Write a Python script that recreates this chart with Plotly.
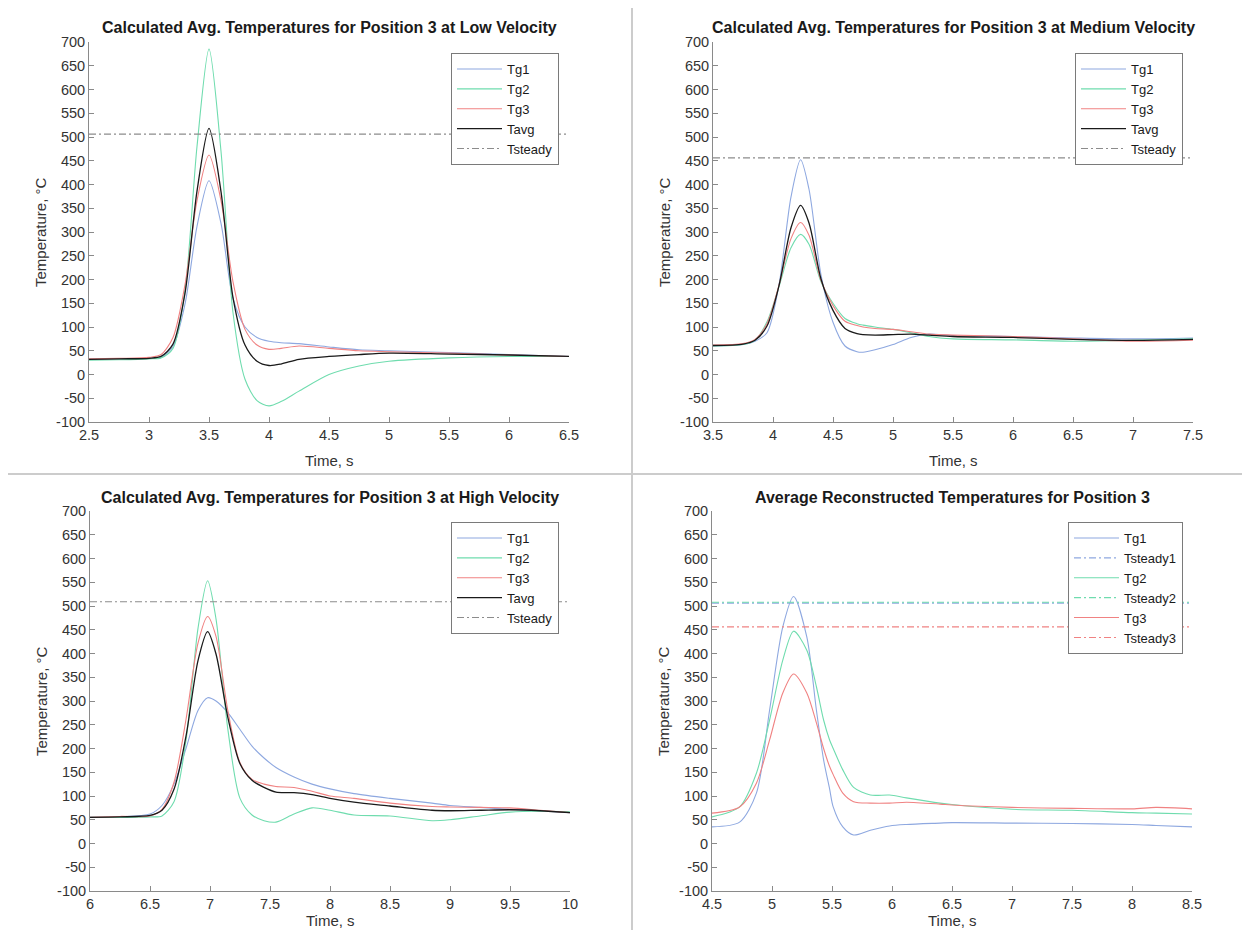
import plotly.graph_objects as go

# ---------------- data ----------------
# Panel 1: low velocity
t_low = [2.5, 2.75, 3.0, 3.1, 3.2, 3.3, 3.4, 3.5, 3.6, 3.7, 3.8, 3.9, 4.0, 4.1, 4.25, 4.5, 4.75, 5.0, 5.5, 6.0, 6.5]
low_tg1 = [32, 33, 34, 36, 59, 148, 312, 408, 318, 160, 100, 78, 70, 67, 65, 58, 52, 50, 46, 42, 38]
low_tg2 = [30, 31, 33, 35, 55, 177, 480, 685, 470, 130, -10, -55, -66, -57, -35, 0, 18, 28, 35, 38, 38]
low_tg3 = [33, 34, 36, 42, 78, 189, 366, 462, 366, 195, 95, 62, 53, 55, 60, 55, 50, 48, 45, 41, 38]
low_tavg = [32, 33, 34, 38, 64, 171, 386, 518, 385, 162, 62, 28, 19, 22, 32, 38, 42, 45, 43, 41, 38]
low_tsteady = 506

# Panel 2: medium velocity
t_med = [3.5, 3.75, 3.85, 3.95, 4.05, 4.15, 4.23, 4.3, 4.4, 4.5, 4.6, 4.7, 4.75, 4.85, 5.0, 5.15, 5.3, 5.5, 6.0, 6.5, 7.0, 7.5]
med_tg1 = [60, 63, 70, 88, 189, 374, 452, 390, 210, 110, 60, 48, 47, 52, 63, 78, 85, 82, 80, 77, 75, 77]
med_tg2 = [60, 63, 72, 111, 185, 267, 295, 274, 195, 150, 118, 107, 104, 100, 95, 88, 80, 75, 73, 70, 72, 75]
med_tg3 = [62, 65, 74, 107, 188, 286, 320, 293, 198, 145, 112, 103, 100, 97, 95, 90, 85, 83, 80, 75, 70, 72]
med_tavg = [61, 64, 72, 102, 187, 309, 356, 319, 201, 135, 97, 86, 84, 83, 84, 85, 83, 80, 78, 74, 72, 74]
med_tsteady = 456

# Panel 3: high velocity
t_high = [6.0, 6.25, 6.5, 6.6, 6.7, 6.8, 6.9, 6.98, 7.05, 7.15, 7.25, 7.35, 7.45, 7.55, 7.7, 7.85, 8.0, 8.2, 8.5, 8.85, 9.0, 9.25, 9.5, 9.75, 10.0]
high_tg1 = [55, 56, 62, 80, 125, 200, 280, 307, 300, 275, 240, 205, 180, 160, 140, 125, 115, 105, 95, 85, 80, 76, 72, 69, 65]
high_tg2 = [55, 55, 56, 58, 88, 217, 453, 553, 473, 238, 95, 60, 48, 45, 62, 75, 70, 60, 58, 48, 50, 58, 66, 68, 67]
high_tg3 = [55, 57, 58, 72, 129, 261, 422, 478, 436, 278, 170, 135, 125, 120, 118, 110, 100, 95, 85, 78, 77, 76, 75, 70, 65]
high_tavg = [55, 56, 59, 70, 114, 226, 385, 446, 399, 264, 168, 133, 118, 108, 107, 103, 95, 87, 79, 70, 69, 70, 71, 69, 65]
high_tsteady = 509

# Panel 4: average reconstructed temperatures
t_rec = [4.5, 4.73, 4.87, 4.98, 5.09, 5.18, 5.29, 5.37, 5.43, 5.48, 5.51, 5.59, 5.68, 5.82, 5.98, 6.12, 6.4, 6.5, 7.0, 7.5, 8.0, 8.2, 8.5]
rec_tg1 = [35, 45, 106, 281, 456, 520, 435, 281, 176, 115, 77, 35, 18, 28, 37, 40, 43, 44, 43, 42, 40, 38, 35]
rec_tg2 = [56, 77, 148, 260, 386, 447, 407, 330, 260, 218, 200, 155, 118, 102, 102, 96, 85, 82, 72, 70, 65, 64, 62]
rec_tg3 = [64, 77, 127, 218, 317, 357, 317, 254, 200, 162, 145, 106, 88, 85, 85, 87, 83, 81, 76, 74, 73, 76, 73]
rec_tsteady1 = 506
rec_tsteady2 = 508
rec_tsteady3 = 456

titles = [
    "Calculated Avg. Temperatures for Position 3 at Low Velocity",
    "Calculated Avg. Temperatures for Position 3 at Medium Velocity",
    "Calculated Avg. Temperatures for Position 3 at High Velocity",
    "Average Reconstructed Temperatures for Position 3",
]
x_ranges = [[2.5, 6.5], [3.5, 7.5], [6.0, 10.0], [4.5, 8.5]]
y_range = [-100, 700]
y_tickvals = list(range(-100, 701, 50))
y_ticktext = [str(v) for v in y_tickvals]
x_label = "Time, s"
y_label = "Temperature, °C"

# ---------------- styling ----------------
# The page body keeps its default 8px margin, so the figure is 16px smaller
# than the 1250x938 window and every reference pixel position is shifted by 8.
OFF = 8
FW, FH = 1250 - 2 * OFF, 938 - 2 * OFF
FONT = "Liberation Sans, Arial, sans-serif"
C1, C2, C3, CK, CS = "#8ea8e0", "#6fdcae", "#f08282", "#1a1a1a", "#8c8c8c"
AXC = "#8a8a8a"
TXT = "#333333"
DASHDOT = "7px,3px,2px,3px"

def px(x):
    return (x - OFF) / FW

def py(y):
    return 1 - (y - OFF) / FH

# axes pixel boxes in reference image coordinates: (left, right, top, bottom)
boxes = [(89, 569, 42, 422), (713, 1193, 42, 422), (90, 570, 511, 891), (712, 1192, 511, 891)]

fig = go.Figure()

def add_line(i, x, y, name, color, width=1.1, legend="legend"):
    ax = "" if i == 0 else str(i + 1)
    fig.add_trace(go.Scatter(
        x=x, y=y, name=name, mode="lines",
        line=dict(color=color, width=width, shape="spline", smoothing=0.8),
        xaxis="x" + ax, yaxis="y" + ax, legend=legend, showlegend=True,
    ))

def add_hline(i, value, name, color, legend):
    ax = "" if i == 0 else str(i + 1)
    xr = x_ranges[i]
    fig.add_trace(go.Scatter(
        x=xr, y=[value, value], name=name, mode="lines",
        line=dict(color=color, width=1.1, dash=DASHDOT),
        xaxis="x" + ax, yaxis="y" + ax, legend=legend,
    ))

panels = [
    (t_low, low_tg1, low_tg2, low_tg3, low_tavg, low_tsteady),
    (t_med, med_tg1, med_tg2, med_tg3, med_tavg, med_tsteady),
    (t_high, high_tg1, high_tg2, high_tg3, high_tavg, high_tsteady),
]
legend_names = ["legend", "legend2", "legend3", "legend4"]
for i, (t, a, b, c, avg, ts) in enumerate(panels):
    lg = legend_names[i]
    add_line(i, t, a, "Tg1", C1, legend=lg)
    add_line(i, t, b, "Tg2", C2, legend=lg)
    add_line(i, t, c, "Tg3", C3, legend=lg)
    add_line(i, t, avg, "Tavg", CK, width=1.3, legend=lg)
    add_hline(i, ts, "Tsteady", CS, lg)

add_line(3, t_rec, rec_tg1, "Tg1", C1, legend="legend4")
add_hline(3, rec_tsteady1, "Tsteady1", C1, "legend4")
add_line(3, t_rec, rec_tg2, "Tg2", C2, legend="legend4")
add_hline(3, rec_tsteady2, "Tsteady2", C2, "legend4")
add_line(3, t_rec, rec_tg3, "Tg3", C3, legend="legend4")
add_hline(3, rec_tsteady3, "Tsteady3", C3, "legend4")

layout = dict(
    template="none",
    width=FW, height=FH, margin=dict(l=0, r=0, t=0, b=0, pad=0, autoexpand=False),
    paper_bgcolor="white", plot_bgcolor="rgba(0,0,0,0)",
    font=dict(family=FONT, size=14.5, color=TXT),
    showlegend=True,
)
annotations = []
shapes = []
for i, (l, r, t, b) in enumerate(boxes):
    ax = "" if i == 0 else str(i + 1)
    layout["xaxis" + ax] = dict(
        domain=[px(l), px(r)], range=x_ranges[i], dtick=0.5, tick0=0, anchor="y" + ax,
        showline=True, linecolor=AXC, linewidth=1, ticks="inside", ticklen=5,
        tickcolor=AXC, showgrid=False, zeroline=False, mirror=False, automargin=False,
        tickfont=dict(size=14.5, color=TXT, family=FONT),
    )
    layout["yaxis" + ax] = dict(
        domain=[py(b), py(t)], range=y_range, tickvals=y_tickvals, ticktext=y_ticktext,
        anchor="x" + ax, showline=True, linecolor=AXC, linewidth=1, ticks="inside",
        ticklen=5, tickcolor=AXC, showgrid=False, zeroline=False, mirror=False,
        automargin=False, tickfont=dict(size=14.5, color=TXT, family=FONT),
    )
    cx = (l + r) / 2
    cy = (t + b) / 2
    annotations.append(dict(text="<b>" + titles[i] + "</b>", x=px(cx), y=py(t - 14),
                            xref="paper", yref="paper", showarrow=False,
                            xanchor="center", yanchor="middle",
                            font=dict(size=16, color="#1a1a1a", family=FONT)))
    # keep the bottom-row x titles inside the drawable page area
    xl_y = min(b + 39, 920)
    annotations.append(dict(text=x_label, x=px(cx), y=py(xl_y), xref="paper", yref="paper",
                            showarrow=False, xanchor="center", yanchor="middle",
                            font=dict(size=15, color=TXT, family=FONT)))
    annotations.append(dict(text=y_label, x=px(l - 49), y=py(cy), xref="paper", yref="paper",
                            showarrow=False, xanchor="center", yanchor="middle", textangle=-90,
                            font=dict(size=15, color=TXT, family=FONT)))

legend_pos = [(559, 53), (1183, 53), (559, 522), (1183, 522)]
for i, (lx, ly) in enumerate(legend_pos):
    layout[legend_names[i]] = dict(
        x=px(lx), y=py(ly), xanchor="right", yanchor="top", xref="paper", yref="paper",
        bgcolor="white", bordercolor="#7a7a7a", borderwidth=1,
        font=dict(size=13, color="#1a1a1a", family=FONT),
        itemwidth=45, tracegroupgap=0,
    )

FR = "#cccccc"
for (x0, y0, x1, y1) in [(632, OFF, 632, 938 - OFF), (OFF, 474, 1250 - OFF, 474)]:
    shapes.append(dict(type="line", xref="paper", yref="paper",
                       x0=px(x0), y0=py(y0), x1=px(x1), y1=py(y1),
                       line=dict(color=FR, width=2)))

layout["annotations"] = annotations
layout["shapes"] = shapes
fig.update_layout(**layout)

fig.write_html("out.html", config={"displayModeBar": False})
